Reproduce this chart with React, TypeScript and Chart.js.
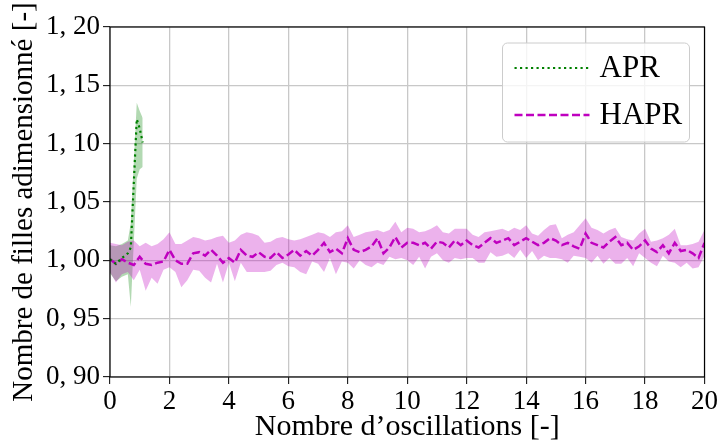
import React, { useEffect, useRef } from 'react';
import { Chart, registerables } from 'chart.js';

Chart.register(...registerables);

const FONT = "'Liberation Serif', 'DejaVu Serif', serif";

// Axis ticks
const xTickValues = [0, 2, 4, 6, 8, 10, 12, 14, 16, 18, 20];
const xTickLabels = ['0', '2', '4', '6', '8', '10', '12', '14', '16', '18', '20'];
const yTickValues = [0.9, 0.95, 1.0, 1.05, 1.1, 1.15, 1.2];
const yTickLabels = ['0, 90', '0, 95', '1, 00', '1, 05', '1, 10', '1, 15', '1, 20'];

// APR series (mean and band)
const aprX = [0, 0.2, 0.4, 0.6, 0.7, 0.9, 1.0, 1.1];
const aprMean = [1.001, 0.997, 1.002, 1.006, 1.011, 1.121, 1.113, 1.101];
const aprUpper = [1.013, 1.012, 1.014, 1.017, 1.032, 1.135, 1.128, 1.122];
const aprLower = [0.989, 0.982, 0.986, 0.988, 0.96, 1.07, 1.078, 1.08];

// HAPR series, sampled every 0.2 oscillation from 0 to 20
const haprStep = 0.2;
const haprMean = [
  1.001, 0.997, 1.001, 0.998, 0.996, 1.003, 0.997, 0.996, 0.998, 0.999,
  1.009, 1.0, 0.997, 0.997, 1.006, 1.007, 1.004, 1.009, 1.004, 0.998,
  1.002, 0.998, 1.009, 1.004, 1.003, 1.007, 1.003, 1.002, 1.007, 1.002,
  1.005, 1.009, 1.004, 1.008, 1.004, 1.009, 1.015, 1.007, 1.01, 1.006,
  1.019, 1.009, 1.007, 1.009, 1.012, 1.019, 1.006, 1.011, 1.02, 1.011,
  1.015, 1.015, 1.013, 1.015, 1.01, 1.016, 1.015, 1.011, 1.017, 1.013,
  1.017, 1.013, 1.011, 1.015, 1.019, 1.015, 1.017, 1.019, 1.013, 1.016,
  1.019, 1.016, 1.013, 1.015, 1.019, 1.017, 1.013, 1.015, 1.012, 1.01,
  1.023, 1.015, 1.013, 1.011, 1.016, 1.02, 1.013, 1.015, 1.009, 1.012,
  1.017, 1.01, 1.007, 1.013, 1.006, 1.015, 1.008, 1.009, 1.006, 1.002,
  1.015,
];
const haprUpper = [
  1.015, 1.014, 1.013, 1.016, 1.017, 1.012, 1.015, 1.012, 1.014, 1.018,
  1.024, 1.014, 1.014, 1.017, 1.02, 1.019, 1.017, 1.018, 1.02, 1.021,
  1.015, 1.017, 1.022, 1.024, 1.023, 1.021, 1.015, 1.016, 1.019, 1.02,
  1.018, 1.017, 1.018, 1.02, 1.022, 1.024, 1.023, 1.02, 1.024, 1.025,
  1.03, 1.02, 1.022, 1.024, 1.025, 1.026, 1.024, 1.026, 1.033, 1.024,
  1.028, 1.027, 1.024, 1.025, 1.027, 1.03, 1.024, 1.023, 1.027, 1.027,
  1.027, 1.022, 1.02, 1.024, 1.025, 1.026, 1.027, 1.025, 1.028, 1.026,
  1.03, 1.023, 1.021, 1.026, 1.03, 1.031, 1.019, 1.022, 1.024, 1.03,
  1.036, 1.028, 1.026, 1.023, 1.026, 1.028, 1.02, 1.018, 1.017, 1.023,
  1.027, 1.016, 1.017, 1.019, 1.022, 1.027, 1.013, 1.013, 1.014, 1.016,
  1.026,
];
const haprLower = [
  0.99, 0.981, 0.988, 0.99, 0.983, 0.992, 0.974, 0.985, 0.98, 0.992,
  0.994, 0.99, 0.977, 0.983, 0.992, 0.991, 0.985, 0.981, 0.997, 0.981,
  0.998, 0.982, 0.998, 0.99, 0.99, 0.99, 0.99, 0.991, 0.996, 0.998,
  0.995, 0.994, 0.99, 0.988, 0.999, 0.997, 0.99, 1.002, 0.988, 0.999,
  0.998, 0.993, 1.0, 0.996, 0.994, 0.998, 0.996, 1.003, 1.001, 1.002,
  1.0, 0.996, 1.003, 0.993, 1.003, 1.006, 1.0, 0.998, 1.002, 1.001,
  1.002, 1.002, 0.998, 0.998, 1.007, 1.003, 1.004, 1.006, 1.002, 1.009,
  1.002, 1.008, 1.0, 1.004, 1.002, 1.002, 1.001, 0.998, 1.004, 1.003,
  1.002, 0.998, 1.004, 0.997, 1.002, 0.997, 0.997, 1.002, 0.995, 1.006,
  1.002, 0.998, 0.995, 1.004, 0.999, 0.998, 0.994, 0.998, 0.993, 0.994,
  1.004,
];
const haprX = haprMean.map((_, i) => Math.round(i * haprStep * 10) / 10);

const toPts = (xs: number[], ys: number[]) => xs.map((x, i) => ({ x, y: ys[i] }));

const GREEN = '#008000';
const MAGENTA = '#bf00bf';

const framePlugin = {
  id: 'frame',
  afterDatasetsDraw(chart: any) {
    const { ctx, chartArea } = chart;
    ctx.save();
    ctx.strokeStyle = '#000';
    ctx.lineWidth = 1.2;
    ctx.strokeRect(chartArea.left, chartArea.top, chartArea.right - chartArea.left, chartArea.bottom - chartArea.top);
    ctx.restore();
  },
};

const legendPlugin = {
  id: 'boxLegend',
  afterDraw(chart: any) {
    const { ctx, chartArea } = chart;
    const w = 187;
    const h = 99;
    const x0 = chartArea.right - 15 - w;
    const y0 = chartArea.top + 16;
    ctx.save();
    ctx.beginPath();
    const r = 5;
    ctx.moveTo(x0 + r, y0);
    ctx.lineTo(x0 + w - r, y0);
    ctx.arcTo(x0 + w, y0, x0 + w, y0 + r, r);
    ctx.lineTo(x0 + w, y0 + h - r);
    ctx.arcTo(x0 + w, y0 + h, x0 + w - r, y0 + h, r);
    ctx.lineTo(x0 + r, y0 + h);
    ctx.arcTo(x0, y0 + h, x0, y0 + h - r, r);
    ctx.lineTo(x0, y0 + r);
    ctx.arcTo(x0, y0, x0 + r, y0, r);
    ctx.closePath();
    ctx.fillStyle = 'rgba(255,255,255,0.8)';
    ctx.fill();
    ctx.strokeStyle = '#cccccc';
    ctx.lineWidth = 1;
    ctx.stroke();
    [0, 1].forEach((k) => {
      const ds = chart.data.datasets[k];
      const cy = y0 + 25 + k * 47;
      ctx.beginPath();
      ctx.setLineDash(ds.borderDash || []);
      ctx.strokeStyle = ds.borderColor;
      ctx.lineWidth = ds.borderWidth;
      ctx.moveTo(x0 + 12, cy);
      ctx.lineTo(x0 + 87, cy);
      ctx.stroke();
      ctx.setLineDash([]);
      ctx.fillStyle = '#000';
      ctx.font = `31px ${FONT}`;
      ctx.textBaseline = 'middle';
      ctx.textAlign = 'left';
      ctx.fillText(ds.label, x0 + 97, cy + 1);
    });
    ctx.restore();
  },
};

export default function App() {
  const canvasRef = useRef<HTMLCanvasElement | null>(null);

  useEffect(() => {
    if (!canvasRef.current) return;
    const chart = new Chart(canvasRef.current, {
      type: 'line',
      data: {
        datasets: [
          {
            label: 'APR',
            data: toPts(aprX, aprMean),
            borderColor: GREEN,
            borderWidth: 2.2,
            borderDash: [2.2, 3.3],
            pointRadius: 0,
            fill: false,
            tension: 0,
            order: 1,
          },
          {
            label: 'HAPR',
            data: toPts(haprX, haprMean),
            borderColor: MAGENTA,
            borderWidth: 2.5,
            borderDash: [8, 3.5],
            pointRadius: 0,
            fill: false,
            tension: 0,
            order: 2,
          },
          {
            label: 'APR low',
            data: toPts(aprX, aprLower),
            borderColor: 'rgba(0,0,0,0)',
            borderWidth: 0,
            pointRadius: 0,
            fill: false,
            order: 4,
          },
          {
            label: 'APR high',
            data: toPts(aprX, aprUpper),
            borderColor: 'rgba(0,0,0,0)',
            borderWidth: 0,
            pointRadius: 0,
            backgroundColor: 'rgba(0,128,0,0.3)',
            fill: '-1',
            order: 4,
          },
          {
            label: 'HAPR low',
            data: toPts(haprX, haprLower),
            borderColor: 'rgba(0,0,0,0)',
            borderWidth: 0,
            pointRadius: 0,
            fill: false,
            order: 3,
          },
          {
            label: 'HAPR high',
            data: toPts(haprX, haprUpper),
            borderColor: 'rgba(0,0,0,0)',
            borderWidth: 0,
            pointRadius: 0,
            backgroundColor: 'rgba(191,0,191,0.3)',
            fill: '-1',
            order: 3,
          },
        ],
      },
      options: {
        animation: false,
        responsive: false,
        devicePixelRatio: 1,
        layout: { padding: { top: 27, right: 15, left: 0, bottom: 0 } },
        plugins: { legend: { display: false }, tooltip: { enabled: false } },
        scales: {
          x: {
            type: 'linear',
            min: 0,
            max: 20,
            afterFit: (s: any) => { s.height = 69; },
            afterBuildTicks: (s: any) => { s.ticks = xTickValues.map((v) => ({ value: v })); },
            grid: { color: '#c8c8c8', lineWidth: 1.3, tickColor: '#000', tickLength: 7, tickWidth: 1 },
            border: { display: false },
            ticks: {
              color: '#000',
              padding: 2,
              maxRotation: 0,
              font: { family: FONT, size: 27 },
              callback: (v: any) => {
                const i = xTickValues.findIndex((t) => Math.abs(t - Number(v)) < 1e-6);
                return i >= 0 ? xTickLabels[i] : '';
              },
            },
            title: {
              display: true,
              text: 'Nombre d’oscillations [-]',
              color: '#000',
              font: { family: FONT, size: 30, lineHeight: 1.2 },
              padding: { top: 0, bottom: 1 },
            },
          },
          y: {
            type: 'linear',
            min: 0.9,
            max: 1.2,
            afterFit: (s: any) => { s.width = 110; },
            afterBuildTicks: (s: any) => { s.ticks = yTickValues.map((v) => ({ value: v })); },
            grid: { color: '#c8c8c8', lineWidth: 1.3, tickColor: '#000', tickLength: 7, tickWidth: 1 },
            border: { display: false },
            ticks: {
              color: '#000',
              padding: 3,
              font: { family: FONT, size: 27 },
              callback: (v: any) => {
                const i = yTickValues.findIndex((t) => Math.abs(t - Number(v)) < 1e-6);
                return i >= 0 ? yTickLabels[i] : '';
              },
            },
            title: {
              display: true,
              text: 'Nombre de filles adimensionné [-]',
              color: '#000',
              font: { family: FONT, size: 29, lineHeight: 1.2 },
              padding: { top: 7, bottom: 0 },
            },
          },
        },
      },
      plugins: [framePlugin, legendPlugin],
    });
    return () => chart.destroy();
  }, []);

  return (
    <div style={{ position: 'fixed', left: 0, top: 0, width: 720, height: 446, background: '#fff' }}>
      <canvas ref={canvasRef} width={720} height={446} style={{ display: 'block' }} />
    </div>
  );
}
